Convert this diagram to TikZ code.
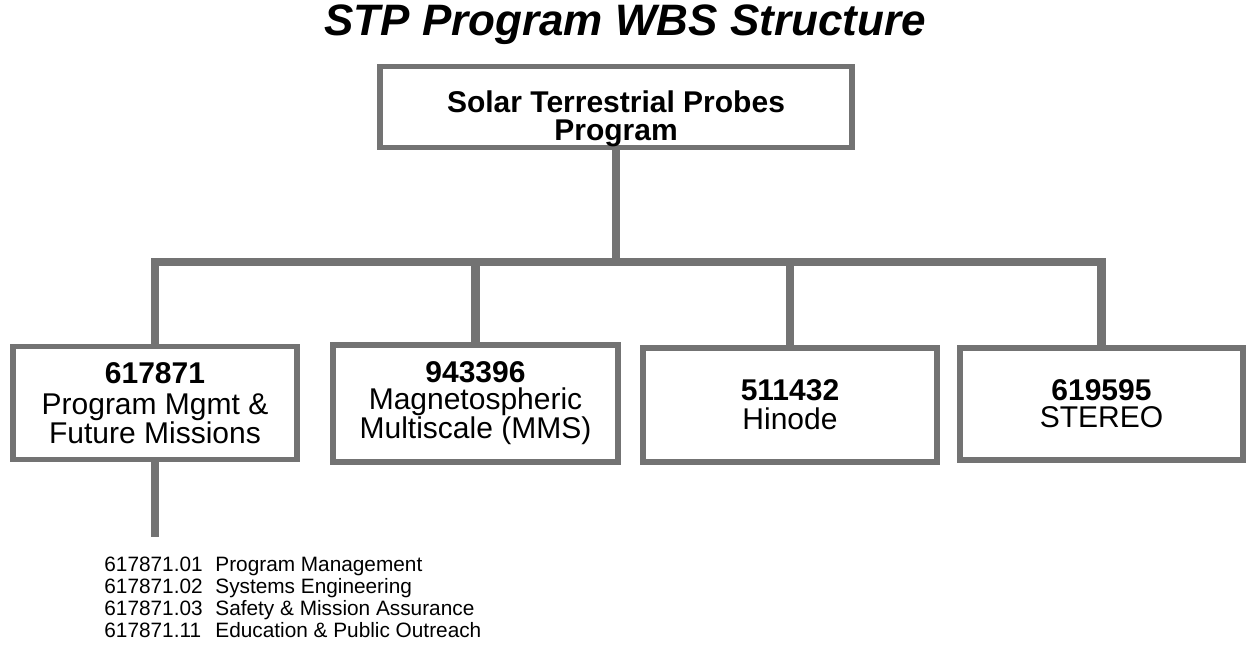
\documentclass[tikz,border=0pt]{standalone}
\usepackage{fontspec}
\setmainfont{Liberation Sans}
\usetikzlibrary{positioning}

\begin{document}
\begin{tikzpicture}[
    x=0.5pt, y=-0.5pt,
    wbs/.style={draw=black!55, line width=2.6pt, fill=white, align=center, inner sep=0pt,
                font=\fontsize{15}{14.5}\selectfont},
    link/.style={draw=black!55, line width=4.2pt},
    task/.style={font=\fontsize{10.4}{11}\selectfont, inner sep=0pt, anchor=base west},
]
\useasboundingbox (0,0) rectangle (1249,646);
\node[font=\fontsize{22}{24}\selectfont\bfseries\itshape] (title) at (625,25) {STP Program WBS Structure};
% top level
\node[wbs, minimum width=236pt, minimum height=40.5pt, font=\fontsize{15}{14}\selectfont\bfseries]
  (stp) at (616,107) {\rule{0pt}{23pt}Solar Terrestrial Probes\\Program};
% projects
\node[wbs, minimum width=142pt, minimum height=56.5pt] (pm) at (155,403)
  {\textbf{617871}\\[1pt]Program Mgmt \&\\Future Missions};
\node[wbs, minimum width=142.5pt, minimum height=58.5pt] (mms) at (475.5,403.5)
  {\textbf{943396}\\[-1pt]Magnetospheric\\Multiscale (MMS)};
\node[wbs, minimum width=147pt, minimum height=57pt] (hin) at (790,405)
  {\textbf{511432}\\Hinode};
\node[wbs, minimum width=141.5pt, minimum height=56pt] (ste) at (1101.5,404)
  {\textbf{619595}\\[-1pt]STEREO};
% connectors
\coordinate (bus) at (616,262);
\coordinate (pmend) at (155,537);
\draw[link] (stp.south) -- (bus);
\draw[link] (pm.north) |- (bus) -| (ste.north);
\draw[link] (mms.north) -- (mms.north |- bus);
\draw[link] (hin.north) -- (hin.north |- bus);
\draw[link] (pm.south) -- (pmend);
% work packages
\foreach \i/\num/\task in {0/01/Program Management, 1/02/Systems Engineering,
    2/03/Safety \& Mission Assurance, 3/11/Education \& Public Outreach} {
  \node[task] (c\num) at (104,572+22*\i) {617871.\num};
  \node[task] (t\num) at (215,572+22*\i) {\task};
}
\end{tikzpicture}
\end{document}
